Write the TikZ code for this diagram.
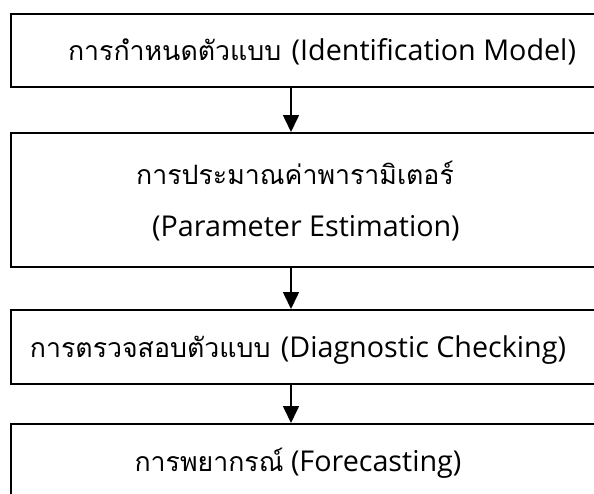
\documentclass[tikz,border=0pt]{standalone}
\usepackage{fontspec}
\setmainfont{Open Sans}
\newfontfamily\thaifont[Script=Thai,Scale=0.93]{Loma}
\usetikzlibrary{arrows.meta}
\begin{document}
\begin{tikzpicture}[x=1pt,y=-1pt,
  stepbox/.style={draw, line width=1.6pt, rectangle, anchor=north west, inner sep=0pt, minimum width=640pt},
  lbl/.style={font=\fontsize{28.7}{34}\selectfont, anchor=base, inner sep=0pt},
  arr/.style={line width=1.6pt, -{Triangle[length=17pt,width=16pt]}}]
\useasboundingbox (0,0) rectangle (594,493);
\fill[white] (0,0) rectangle (594,493);
\clip (0,0) rectangle (594,493);
\node[stepbox, minimum height=73pt] (b1) at (10,13) {};
\node[stepbox, minimum height=134pt] (b2) at (10,132) {};
\node[stepbox, minimum height=74pt] (b3) at (10,309) {};
\node[stepbox, minimum height=100pt] (b4) at (10,423) {};
\node[lbl] (t1) at (322,60) {{\thaifont การกำหนดตัวแบบ}\hspace{3pt} (Identification Model)};
\node[lbl] (t2a) at (295,184) {{\thaifont การประมาณค่าพารามิเตอร์}};
\node[lbl] (t2b) at (306,236) {(Parameter Estimation)};
\node[lbl] (t3) at (298,357) {{\thaifont การตรวจสอบตัวแบบ}\hspace{3pt} (Diagnostic Checking)};
\node[lbl] (t4) at (298,471) {{\thaifont การพยากรณ์} (Forecasting)};
\coordinate (ax) at (291,0);
\draw[arr] (b1.south -| ax) -- (b2.north -| ax);
\draw[arr] (b2.south -| ax) -- (b3.north -| ax);
\draw[arr] (b3.south -| ax) -- (b4.north -| ax);
\end{tikzpicture}
\end{document}
